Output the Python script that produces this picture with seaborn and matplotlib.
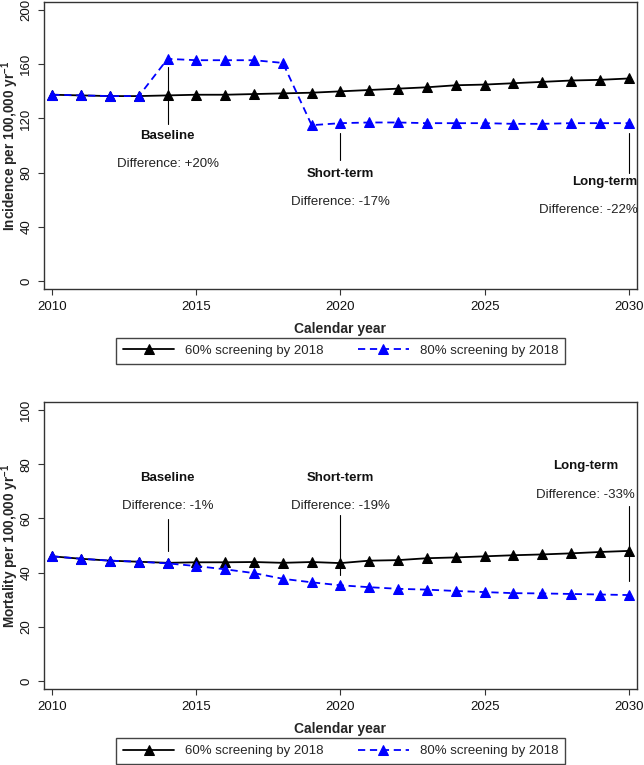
import matplotlib
matplotlib.use("Agg")
import matplotlib.pyplot as plt
import seaborn as sns
import pandas as pd

# ---------------- data ----------------
years = list(range(2010, 2031))

inc_60 = [137.5, 137.0, 136.5, 136.5, 137.0, 137.5, 137.5, 138.0, 138.5, 139.0,
          140.0, 141.0, 142.0, 143.0, 144.5, 145.0, 146.0, 147.0, 148.0, 148.5, 149.5]
inc_80 = [137.5, 137.0, 136.5, 136.5, 164.0, 163.0, 163.0, 163.0, 161.0, 115.0,
          116.5, 117.0, 117.0, 116.5, 116.5, 116.5, 116.0, 116.0, 116.5, 116.5, 116.5]

mort_60 = [46.0, 45.1, 44.4, 44.0, 43.6, 43.8, 43.8, 43.9, 43.6, 43.9,
           43.5, 44.4, 44.6, 45.3, 45.6, 46.0, 46.4, 46.7, 47.1, 47.6, 48.0]
mort_80 = [46.0, 45.1, 44.4, 44.0, 43.4, 42.4, 41.2, 39.8, 37.7, 36.4,
           35.3, 34.6, 34.0, 33.7, 33.2, 32.8, 32.4, 32.3, 32.1, 31.9, 31.7]

series_names = ["60% screening by 2018", "80% screening by 2018"]

xticks = [2010, 2015, 2020, 2025, 2030]
inc_yticks = [0, 40, 80, 120, 160, 200]
mort_yticks = [0, 20, 40, 60, 80, 100]

ann_titles = ["Baseline", "Short-term", "Long-term"]
inc_ann_diff = ["Difference: +20%", "Difference: -17%", "Difference: -22%"]
inc_ann_year = [2014, 2020, 2030]
inc_ann_line = [(116, 158), (89.5, 109.5), (79.5, 109)]
inc_ann_title_y = [107, 79, 73.3]
inc_ann_diff_y = [86.3, 58, 52.4]
inc_ann_text_x = [2014, 2020, 2030.3]
inc_ann_ha = ["center", "center", "right"]

mort_ann_diff = ["Difference: -1%", "Difference: -19%", "Difference: -33%"]
mort_ann_year = [2014, 2020, 2030]
mort_ann_line = [(47.8, 59.9), (39.2, 61.2), (36.9, 64.7)]
mort_ann_title_y = [74.8, 75, 79.3]
mort_ann_diff_y = [64.5, 64.5, 68.8]
mort_ann_text_x = [2014, 2020, 2028.5]
mort_ann_ha = ["center", "center", "center"]

# ---------------- style ----------------
sns.set_style("ticks")
plt.rcParams["font.family"] = ["Liberation Sans", "DejaVu Sans"]
plt.rcParams["mathtext.fontset"] = "custom"
plt.rcParams["mathtext.rm"] = "Liberation Sans"
plt.rcParams["mathtext.bf"] = "Liberation Sans:bold"
FS = 9.5

fig = plt.figure(figsize=(6.44, 7.65), dpi=100)
W, H = 644, 765
ax_left, ax_right = 44, 637


def make_axes(top_px, bottom_px):
    return fig.add_axes([ax_left / W, 1 - bottom_px / H,
                         (ax_right - ax_left) / W, (bottom_px - top_px) / H])


def draw_panel(ax, v60, v80, ylim, yticks, ylabel, ann_diff, ann_year, ann_line,
               ann_title_y, ann_diff_y, ann_text_x, ann_ha, legend_y_px):
    df60 = pd.DataFrame({"year": years, "value": v60})
    df80 = pd.DataFrame({"year": years, "value": v80})
    sns.lineplot(data=df60, x="year", y="value", ax=ax, color="black",
                 linewidth=1.3, marker="^", markersize=6.8,
                 markeredgecolor="black", markerfacecolor="black",
                 label=series_names[0], legend=False)
    sns.lineplot(data=df80, x="year", y="value", ax=ax, color="#0000FF",
                 linewidth=1.3, linestyle=(0, (4, 2.6)), marker="^",
                 markersize=6.8, markeredgecolor="#0000FF",
                 markerfacecolor="#0000FF",
                 label=series_names[1], legend=False)

    for title, diff, yr, (y0, y1), ty, dy, tx, ha in zip(
            ann_titles, ann_diff, ann_year, ann_line, ann_title_y, ann_diff_y,
            ann_text_x, ann_ha):
        ax.plot([yr, yr], [y0, y1], color="black", linewidth=0.8, zorder=1)
        ax.text(tx, ty, title, ha=ha, va="center", fontsize=FS,
                fontweight="bold", color="#111111")
        ax.text(tx, dy, diff, ha=ha, va="center", fontsize=FS,
                color="#222222")

    ax.set_xlim(2009.71, 2030.29)
    ax.set_ylim(*ylim)
    ax.set_xticks(xticks)
    ax.set_yticks(yticks)
    ax.set_xticklabels([str(t) for t in xticks], fontsize=FS)
    ax.set_yticklabels([str(t) for t in yticks], fontsize=FS, rotation=90,
                       va="center")
    ax.tick_params(axis="both", direction="out", length=4.5, width=0.8,
                   color="#333333", labelcolor="#111111")
    ax.tick_params(axis="x", pad=4)
    ax.tick_params(axis="y", pad=4)
    for s in ax.spines.values():
        s.set_visible(True)
        s.set_color("#333333")
        s.set_linewidth(1.0)
    ax.set_xlabel("Calendar year", fontsize=FS + 0.5, fontweight="bold")
    ax.set_ylabel(ylabel, fontsize=FS + 0.3, fontweight="bold")
    ax.xaxis.set_label_coords(0.5, -0.115)
    ax.yaxis.set_label_coords(-0.038, 0.5)
    ax.grid(False)

    handles, labels = ax.get_legend_handles_labels()
    leg = ax.legend(handles, labels, loc="center", ncol=2,
                    bbox_to_anchor=(340.5 / W, 1 - legend_y_px / H),
                    bbox_transform=fig.transFigure, fontsize=FS,
                    frameon=True, fancybox=False, framealpha=1,
                    edgecolor="#444444", handlelength=3.9, handletextpad=0.8,
                    columnspacing=2.6, borderpad=0.5, numpoints=1)
    leg.get_frame().set_linewidth(1.0)


ax1 = make_axes(2, 289)
draw_panel(ax1, inc_60, inc_80, (-6, 206), inc_yticks,
           r"Incidence per 100,000 yr$^{\mathbf{-1}}$",
           inc_ann_diff, inc_ann_year, inc_ann_line, inc_ann_title_y,
           inc_ann_diff_y, inc_ann_text_x, inc_ann_ha, 351)

ax2 = make_axes(402, 689)
draw_panel(ax2, mort_60, mort_80, (-3, 103), mort_yticks,
           r"Mortality per 100,000 yr$^{\mathbf{-1}}$",
           mort_ann_diff, mort_ann_year, mort_ann_line, mort_ann_title_y,
           mort_ann_diff_y, mort_ann_text_x, mort_ann_ha, 751)

fig.savefig("out.png", dpi=100, facecolor="white")
